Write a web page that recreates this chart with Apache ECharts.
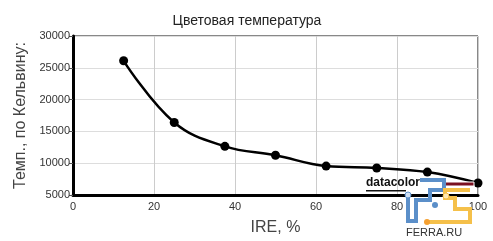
<!DOCTYPE html>
<html><head><meta charset="utf-8">
<script src="https://cdn.jsdelivr.net/npm/echarts@6/dist/echarts.min.js"></script>
<style>html,body{margin:0;padding:0;background:#fff}#c{width:493px;height:241px}</style>
</head><body><div id="c"></div>
<script>
const ire = [12.5, 25, 37.5, 50, 62.5, 75, 87.5, 100];
const kelvin = [26100, 16400, 12650, 11250, 9550, 9250, 8600, 6880];
const xTicks = [0, 20, 40, 60, 80, 100];
const yTicks = [5000, 10000, 15000, 20000, 25000, 30000];
const title = 'Цветовая температура';
const xName = 'IRE, %';
const yName = 'Темп., по Кельвину:';

const chart = echarts.init(document.getElementById('c'));
chart.setOption({
  animation: false,
  title: { text: title, left: 242, top: 9, textAlign: 'center',
    textStyle: { fontFamily: 'Liberation Sans, Arial', fontSize: 14, fontWeight: 'normal', color: '#222' } },
  grid: { left: 73, right: 15, top: 36, bottom: 45, show: true, borderColor: '#111', borderWidth: 1 },
  xAxis: { type: 'value', min: 0, max: 100, interval: 20,
    name: xName, nameLocation: 'middle', nameGap: 25,
    nameTextStyle: { fontFamily: 'Liberation Sans, Arial', fontSize: 16, color: '#444' },
    axisLine: { show: true, onZero: false, lineStyle: { color: '#000', width: 3 } },
    axisTick: { show: false },
    axisLabel: { fontFamily: 'Liberation Sans, Arial', fontSize: 11, color: '#333', margin: 6,
      formatter: v => xTicks.includes(v) ? String(v) : '' },
    splitLine: { show: true, lineStyle: { color: '#ccc', width: 1 } } },
  yAxis: { type: 'value', min: 5000, max: 30000, interval: 5000,
    name: yName, nameLocation: 'middle', nameGap: 42,
    nameTextStyle: { fontFamily: 'Liberation Sans, Arial', fontSize: 16, color: '#444' },
    axisLine: { show: true, lineStyle: { color: '#000', width: 3 } },
    axisTick: { show: true, length: 4, lineStyle: { color: '#555', width: 1 } },
    axisLabel: { fontFamily: 'Liberation Sans, Arial', fontSize: 11, color: '#333', margin: 3,
      formatter: v => yTicks.includes(v) ? String(v) : '' },
    splitLine: { show: true, lineStyle: { color: '#ddd', width: 1 } } },
  series: [{ type: 'line', data: ire.map((x, i) => [x, kelvin[i]]), smooth: 0.4,
    symbol: 'circle', symbolSize: 9, itemStyle: { color: '#000' },
    lineStyle: { color: '#000', width: 2.5 }, z: 3 }],
  graphic: [
    { type: 'text', left: 366, top: 177, z: 10, style: { text: 'datacolor', font: 'bold 12px Liberation Sans, Arial', fill: '#111' } },
    { type: 'rect', z: 9, shape: { x: 366, y: 190, width: 40, height: 1.5 }, style: { fill: '#111' } },
    { type: 'rect', z: 11, shape: { x: 444, y: 182, width: 30, height: 4 }, style: { fill: '#7a1020', stroke: '#fff', lineWidth: 1 } },
    { type: 'polyline', z: 11, shape: { points: [[408, 196], [408, 221], [416, 221], [416, 200], [430, 200], [430, 190], [444, 190], [444, 180], [420, 180]] },
      style: { stroke: '#5b8fc9', lineWidth: 4, fill: null } },
    { type: 'circle', z: 12, shape: { cx: 408, cy: 195, r: 3 }, style: { fill: '#cfe0f5', stroke: '#5b8fc9' } },
    { type: 'circle', z: 12, shape: { cx: 435, cy: 205, r: 3 }, style: { fill: '#5b8fc9' } },
    { type: 'polyline', z: 11, shape: { points: [[427, 222], [470, 222], [470, 209], [455, 209], [455, 198], [445, 198], [445, 190], [470, 190]] },
      style: { stroke: '#f5c04a', lineWidth: 4, fill: null } },
    { type: 'circle', z: 12, shape: { cx: 427, cy: 222, r: 3 }, style: { fill: '#f5a030' } },
    { type: 'circle', z: 12, shape: { cx: 446, cy: 196, r: 3 }, style: { fill: '#ffe8b0', stroke: '#f5c04a' } },
    { type: 'text', left: 406, top: 227, z: 10, style: { text: 'FERRA.RU', font: '11px Liberation Sans, Arial', fill: '#333' } }
  ]
});
</script></body></html>
